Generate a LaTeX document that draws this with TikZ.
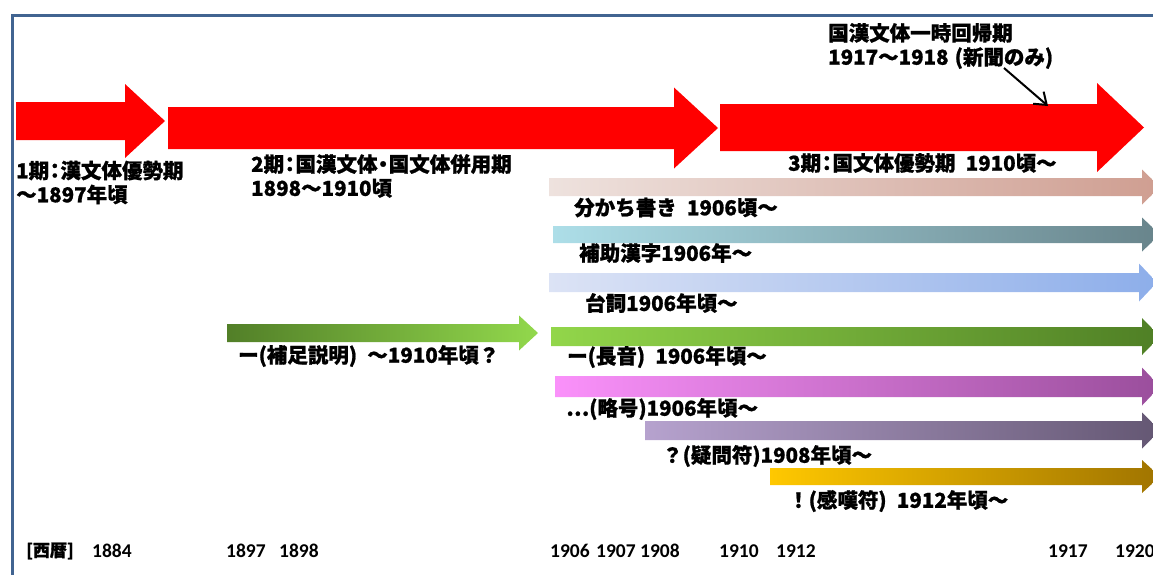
\documentclass[tikz,border=0pt]{standalone}
\usepackage{fontspec}
\usetikzlibrary{arrows.meta}
\newfontfamily\jp[BoldFeatures={FakeBold=1}]{Noto Sans CJK JP}
\newfontfamily\yr{Carlito}
\definecolor{frameblue}{RGB}{65,100,145}
\definecolor{aL}{RGB}{238,226,222}\definecolor{aR}{RGB}{207,158,145}
\definecolor{bL}{RGB}{173,222,232}\definecolor{bR}{RGB}{104,132,139}
\definecolor{cL}{RGB}{220,227,245}\definecolor{cR}{RGB}{141,174,234}
\definecolor{dL}{RGB}{146,214,74}\definecolor{dR}{RGB}{79,127,37}
\definecolor{eL}{RGB}{250,145,250}\definecolor{eR}{RGB}{154,78,156}
\definecolor{fL}{RGB}{182,162,206}\definecolor{fR}{RGB}{100,87,115}
\definecolor{gL}{RGB}{255,200,0}\definecolor{gR}{RGB}{160,116,0}
\definecolor{hL}{RGB}{82,127,40}\definecolor{hR}{RGB}{146,216,76}
% narrow full-width punctuation and space
\newcommand\jcolon{\makebox[0.55em]{：}}
\newcommand\jdot{\makebox[0.55em]{・}}
\newcommand\jspace{\hspace*{0.5em}}
% #1 options, #2 x0, #3 head base, #4 tip, #5 top, #6 bottom, #7 head extension
\newcommand\hArrow[7]{%
  \path[#1] (#2,#5) -- (#3,#5) -- (#3,#5-#7) -- (#4,{(#5+#6)/2}) -- (#3,#6+#7) -- (#3,#6) -- (#2,#6) -- cycle;}
\tikzset{
  lbl/.style={anchor=west, inner sep=0pt, align=left, font=\jp\bfseries\fontsize{20.5}{24}\selectfont},
  yrlbl/.style={anchor=west, inner sep=0pt, font=\yr\bfseries\fontsize{19.5}{22}\selectfont},
  redarrow/.style={fill=red},
  pointer/.style={line width=2pt, -{Straight Barb[length=11pt,width=16pt,line width=2pt]}}
}
\begin{document}
\begin{tikzpicture}[x=1pt,y=-1pt]
\useasboundingbox (0,0) rectangle (1153,574);
\clip (0,0) rectangle (1153,574);
% frame
\draw[frameblue, line width=3.5pt] (12.5,580) -- (12.5,15.5) -- (1160,15.5);
% red period arrows
\hArrow{redarrow}{16}{125}{165}{102}{140}{18}
\hArrow{redarrow}{168}{674}{718}{107}{149}{19.5}
\hArrow{redarrow}{720}{1097}{1144}{104}{151}{21}
% gradient arrows
\hArrow{left color=aL, right color=aR}{549}{1142}{1160}{178}{196}{8.5}
\hArrow{left color=bL, right color=bR}{553}{1142}{1160}{226}{243}{8.5}
\hArrow{left color=cL, right color=cR}{549}{1139}{1157}{273}{292}{9.5}
\hArrow{left color=dL, right color=dR}{551}{1142}{1160}{327}{346}{9}
\hArrow{left color=eL, right color=eR}{555}{1142}{1160}{376}{397}{8.5}
\hArrow{left color=fL, right color=fR}{645}{1142}{1160}{421}{440}{8.5}
\hArrow{left color=gL, right color=gR}{770}{1142}{1160}{468}{485}{8}
\hArrow{left color=hL, right color=hR}{227}{519}{538}{324}{342}{8.5}
% period labels
\node[lbl] (p1) at (16,182.5) {1期\jcolon 漢文体優勢期\\～1897年頃};
\node[lbl] (p2) at (251,176) {2期\jcolon 国漢文体\jdot 国文体併用期\\1898～1910頃};
\node[lbl] (p3) at (788,163) {3期\jcolon 国文体優勢期\jspace 1910頃～};
\node[lbl] (kaiki) at (828,46) {国漢文体一時回帰期\\1917～1918\hspace*{0.3em}(新聞のみ)};
\coordinate (q) at (1004,68);
\coordinate (p) at (1048,106);
\draw[pointer] (q) -- (p);
% feature labels
\node[lbl] (t1) at (574,207.5) {分かち書き\jspace 1906頃～};
\node[lbl] (t2) at (579,253) {補助漢字1906年～};
\node[lbl] (t3) at (585,303) {台詞1906年頃～};
\node[lbl] (t4) at (567,357) {ー(長音)\jspace 1906年頃～};
\node[lbl] (t5) at (566,409) {…(略号)1906年頃～};
\node[lbl] (t6) at (662,456) {？(疑問符)1908年頃～};
\node[lbl] (t7) at (788,501) {！(感嘆符)\jspace 1912年頃～};
\node[lbl] (t8) at (238,356) {ー(補足説明)\jspace ～1910年頃？};
% year axis
\node[anchor=west, inner sep=0pt, font=\jp\bfseries\fontsize{17}{20}\selectfont] (era) at (26,551) {[西暦]};
\node[yrlbl] (y1884) at (92,551) {1884};
\node[yrlbl] (y1897) at (226,551) {1897};
\node[yrlbl] (y1898) at (279,551) {1898};
\node[yrlbl] (y1906) at (550,551) {1906};
\node[yrlbl] (y1907) at (596,551) {1907};
\node[yrlbl] (y1908) at (640,551) {1908};
\node[yrlbl] (y1910) at (719,551) {1910};
\node[yrlbl] (y1912) at (776,551) {1912};
\node[yrlbl] (y1917) at (1048,551) {1917};
\node[yrlbl] (y1920) at (1115,551) {1920};
\end{tikzpicture}
\end{document}
